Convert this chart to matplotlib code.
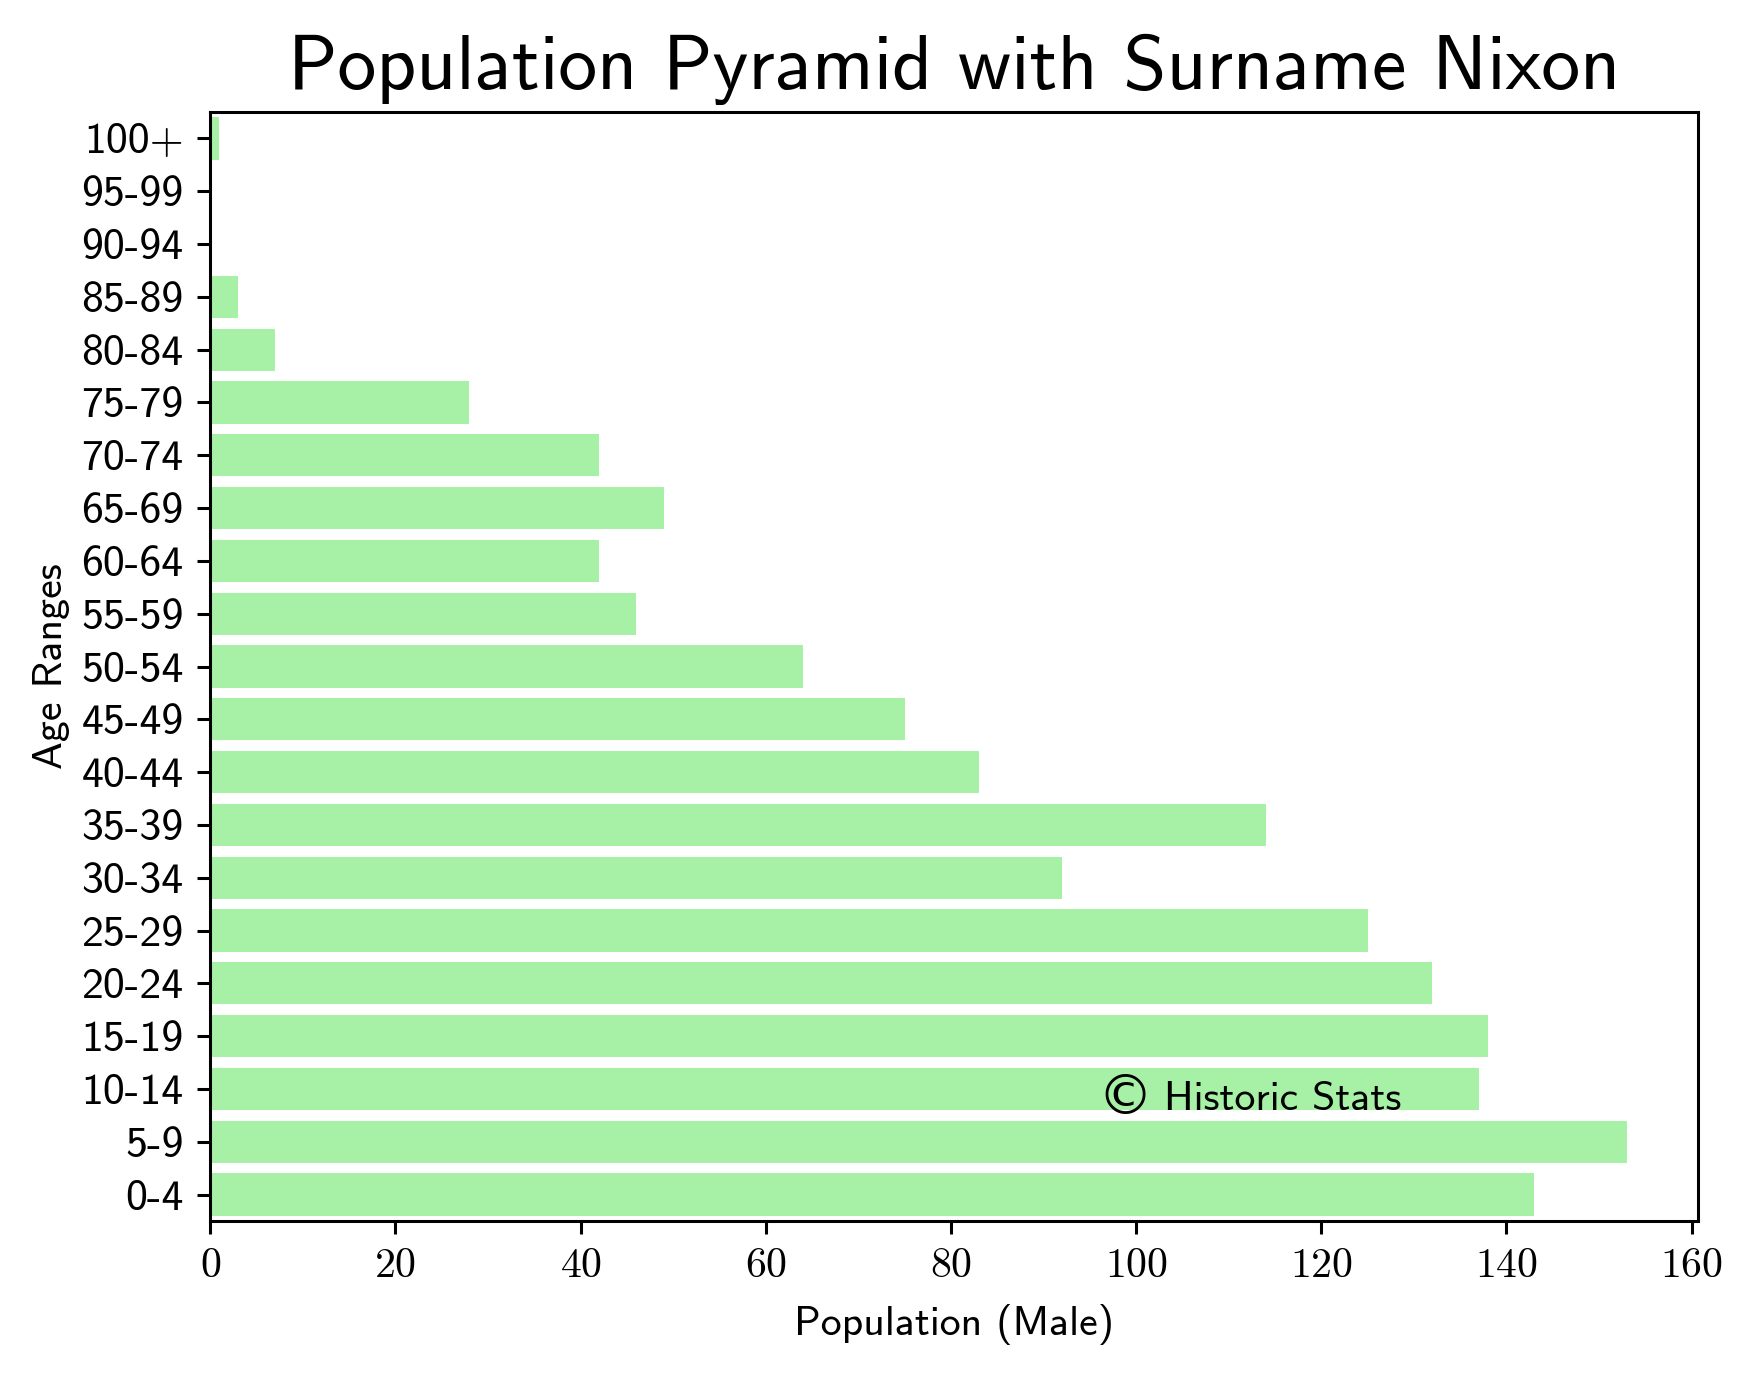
import matplotlib
matplotlib.use("Agg")
import matplotlib.pyplot as plt
import numpy as np

# age groups, bottom to top
age_ranges = ["0-4", "5-9", "10-14", "15-19", "20-24", "25-29", "30-34",
              "35-39", "40-44", "45-49", "50-54", "55-59", "60-64", "65-69",
              "70-74", "75-79", "80-84", "85-89", "90-94", "95-99", "100+"]
male = [143, 153, 137, 138, 132, 125, 92, 114, 83, 75, 64, 46, 42, 49,
        42, 28, 7, 3, 0, 0, 1]

sans = ["cmss10", "DejaVu Sans"]
plt.rcParams["axes.formatter.use_mathtext"] = True

dpi = 274
fig, ax = plt.subplots(figsize=(1752 / dpi, 1375 / dpi), dpi=dpi)
fig.subplots_adjust(left=0.12, right=0.969, top=0.9185, bottom=0.112)

y = np.arange(len(age_ranges))
ax.barh(y, male, color="lightgreen", alpha=0.8)
ax.set_ylim(-0.5, len(age_ranges) - 0.5)

ax.set_yticks(y)
ax.set_yticklabels(age_ranges, family=sans, fontsize=11.5)
ax.tick_params(axis="x", labelsize=11)
plt.setp(ax.get_xticklabels(), family="cmr10")

ax.set_xlabel("Population (Male)", family=sans, fontsize=11, labelpad=5)
ax.set_ylabel("Age Ranges", family=sans, fontsize=11, labelpad=3)
ax.set_title("Population Pyramid with Surname Nixon", family=sans, fontsize=20.4)

# watermark: circled c drawn with DejaVu, the words with cmss10
ax.annotate("\u00a9", xy=(0.6, 0.1), xycoords="axes fraction",
            xytext=(-1.5, -1), textcoords="offset points",
            family="DejaVu Sans", fontsize=14.5, va="baseline")
ax.annotate("Historic Stats", xy=(0.6, 0.1), xycoords="axes fraction",
            xytext=(16, 0), textcoords="offset points",
            family=sans, fontsize=11, va="baseline")

fig.savefig("out.png", dpi=dpi)
